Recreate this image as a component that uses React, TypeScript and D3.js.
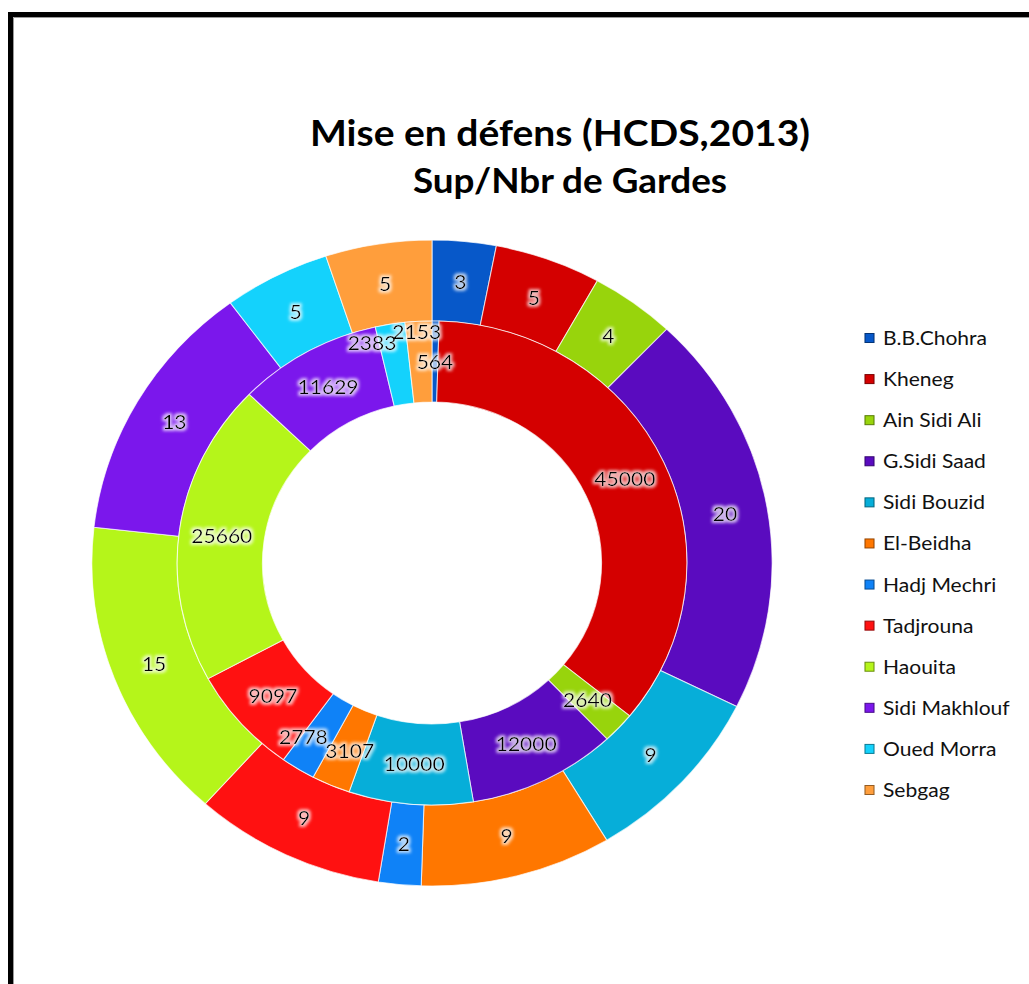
import React from "react";
import * as d3 from "d3";

const categories = [
  "B.B.Chohra", "Kheneg", "Ain Sidi Ali", "G.Sidi Saad", "Sidi Bouzid", "El-Beidha",
  "Hadj Mechri", "Tadjrouna", "Haouita", "Sidi Makhlouf", "Oued Morra", "Sebgag",
];
const supValues = [564, 45000, 2640, 12000, 10000, 3107, 2778, 9097, 25660, 11629, 2383, 2153];
const gardesValues = [3, 5, 4, 20, 9, 9, 2, 9, 15, 13, 5, 5];
const colors = [
  "#0758c9", "#d40000", "#98d40c", "#5a0bbf", "#06aed9", "#ff7700",
  "#0f82f7", "#ff1111", "#b5f51a", "#7b17ec", "#14d2fc", "#ff9e3c",
];
const titleLines = ["Mise en défens (HCDS,2013)", "Sup/Nbr de Gardes"];
// small label nudges (px) for crowded inner labels
const innerNudge: Record<string, [number, number]> = {
  "Sebgag": [-4, -30],
  "Oued Morra": [-25, -21],
  "Hadj Mechri": [-17, 3],
  "El-Beidha": [2, 3],
};

const W = 1029;
const H = 984;
const SX = 1.053;

export default function App() {
  const cx = 432 / SX;
  const cy = 563;
  const rOuter = 323;
  const rMid = 242;
  const rInner = 161;

  const pie = d3.pie<number>().sort(null).value((d) => d);
  const innerArcs = pie(supValues);
  const outerArcs = pie(gardesValues);
  const arcInner = d3.arc<d3.PieArcDatum<number>>().innerRadius(rInner).outerRadius(rMid);
  const arcOuter = d3.arc<d3.PieArcDatum<number>>().innerRadius(rMid).outerRadius(rOuter);

  const legendY = d3.scalePoint<string>().domain(categories).range([338, 790]);

  const font = "Lato, 'Open Sans', sans-serif";

  return (
    <svg width={W} height={H} style={{ position: "absolute", left: 0, top: 0, background: "#fff" }}>
      <defs>
        <filter id="glow" x="-30%" y="-50%" width="160%" height="200%">
          <feMorphology in="SourceAlpha" operator="dilate" radius="1.5" result="d" />
          <feGaussianBlur in="d" stdDeviation="1.6" result="b" />
          <feFlood floodColor="#ffffff" floodOpacity="0.7" />
          <feComposite in2="b" operator="in" result="g" />
          <feMerge>
            <feMergeNode in="g" />
            <feMergeNode in="SourceGraphic" />
          </feMerge>
        </filter>
      </defs>
      <rect x={0} y={0} width={W} height={H} fill="#fff" />
      <path d={`M10.5,${H + 5} L10.5,14.5 L${W + 5},14.5`} fill="none" stroke="#000" strokeWidth={5} />
      <path d={`M13.5,${H + 5} L13.5,17.5 L${W + 5},17.5`} fill="none" stroke="#9a9a9a" strokeWidth={1} />
      <g transform={`scale(${SX},1)`}>
        <g fontFamily={font} fontWeight={700} textAnchor="middle" fill="#000">
          <text x={560 / SX} y={146} fontSize={36} textLength={500 / SX} lengthAdjust="spacingAndGlyphs">{titleLines[0]}</text>
          <text x={570 / SX} y={193} fontSize={35}>{titleLines[1]}</text>
        </g>
        <g transform={`translate(${cx},${cy})`}>
          {outerArcs.map((a, i) => (
            <path key={"o" + i} d={arcOuter(a) || ""} fill={colors[i]} stroke="#ffffff" strokeOpacity={0.7} strokeWidth={1} />
          ))}
          {innerArcs.map((a, i) => (
            <path key={"i" + i} d={arcInner(a) || ""} fill={colors[i]} stroke="#ffffff" strokeOpacity={0.7} strokeWidth={1} />
          ))}
          <g fontFamily={font} fontSize={20} textAnchor="middle" fill="#000" filter="url(#glow)">
            {outerArcs.map((a, i) => {
              const [x, y] = arcOuter.centroid(a);
              return (
                <text key={"ol" + i} x={x} y={y} dy="0.35em">{gardesValues[i]}</text>
              );
            })}
            {innerArcs.map((a, i) => {
              const [x, y] = arcInner.centroid(a);
              const n = innerNudge[categories[i]] || [0, 0];
              return (
                <text key={"il" + i} x={x + n[0] / SX} y={y + n[1]} dy="0.35em">{supValues[i]}</text>
              );
            })}
          </g>
        </g>
        <g fontFamily={font} fontSize={20} fill="#111">
          {categories.map((c, i) => {
            const y = legendY(c) || 0;
            return (
              <g key={c}>
                <rect x={865 / SX} y={y - 4.5} width={9 / SX} height={9} fill={colors[i]} stroke={d3.color(colors[i])!.darker(1.5).toString()} strokeWidth={1} />
                <text x={883 / SX} y={y} dy="0.35em">{c}</text>
              </g>
            );
          })}
        </g>
      </g>
    </svg>
  );
}
